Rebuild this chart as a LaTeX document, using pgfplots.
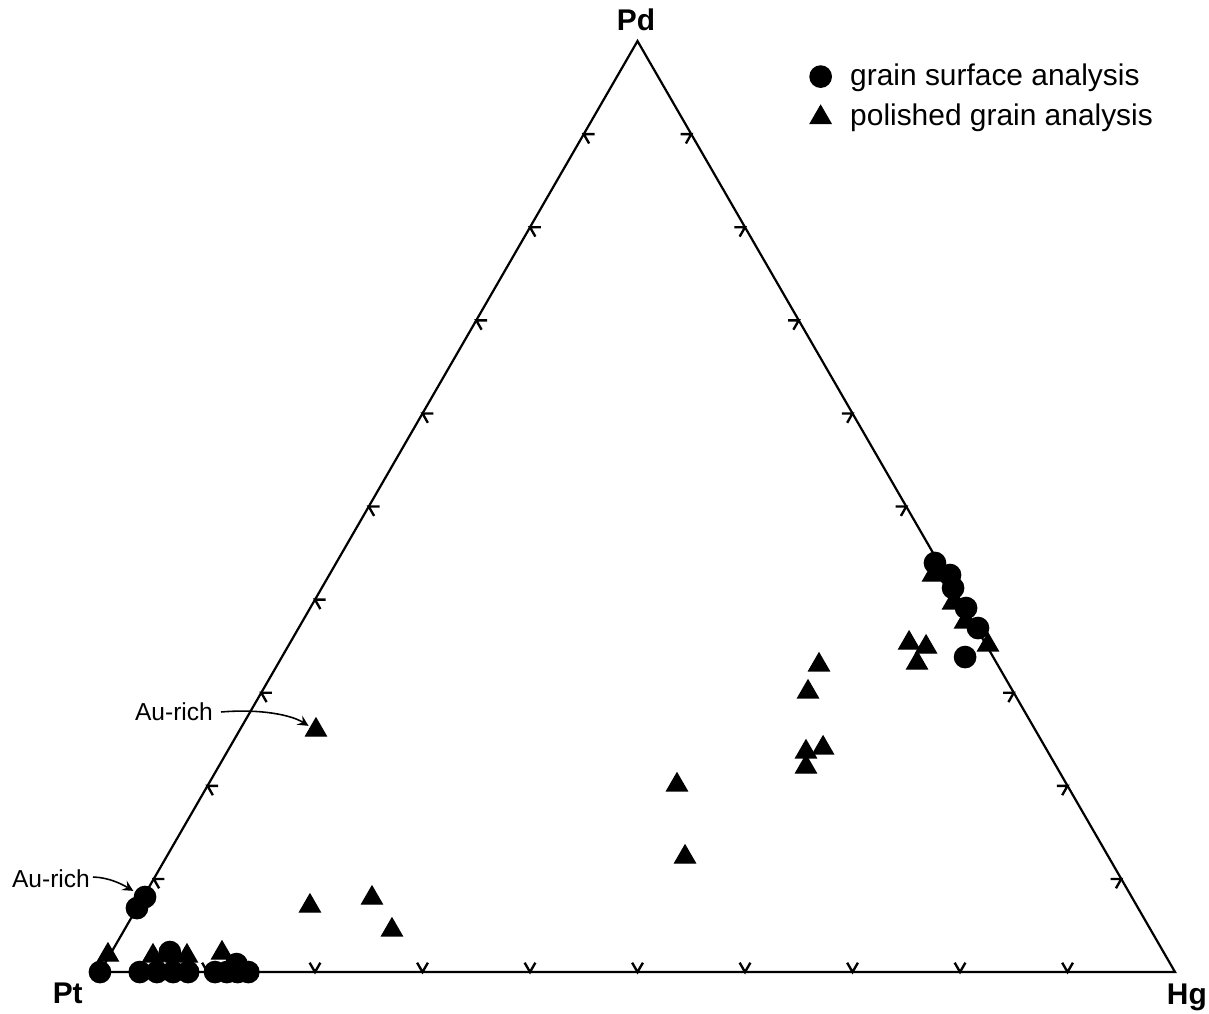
\documentclass[border=0pt]{standalone}
\usepackage{pgfplots}
\pgfplotsset{compat=1.18}
\usepackage{fontspec}
\setmainfont{Liberation Sans}
\begin{document}
\begin{tikzpicture}
\begin{axis}[x=0.12cm, y=0.12cm,
  xmin=-9.30, xmax=103.16, ymin=-3.81, ymax=90.42,
  hide axis, clip=false,
  legend style={at={(axis cs:65.1,85.75)}, anchor=north west, draw=none, fill=none,
    font=\fontsize{9.5}{11}\selectfont, row sep=0.6pt,
    /tikz/every odd column/.append style={column sep=4pt}},
  legend cell align=left]
\path (axis cs:-9.30,-3.81) rectangle (axis cs:103.16,90.42);
% triangle frame
\draw[line width=0.7pt, line join=miter] (axis cs:0,0) -- (axis cs:100,0) -- (axis cs:50,86.60) -- cycle;
% tick marks
\pgfplotsinvokeforeach{1,...,9}{
  \draw[line width=0.75pt] (axis cs:{#1*10-0.5},0.87) -- (axis cs:{#1*10},0) -- (axis cs:{#1*10+0.5},0.87);
  \draw[line width=0.75pt] (axis cs:{#1*5+1.0},{#1*8.660}) -- (axis cs:{#1*5},{#1*8.660}) -- (axis cs:{#1*5+0.5},{#1*8.660-0.87});
  \draw[line width=0.75pt] (axis cs:{100-#1*5-1.0},{#1*8.660}) -- (axis cs:{100-#1*5},{#1*8.660}) -- (axis cs:{100-#1*5-0.5},{#1*8.660-0.87});
}
\addplot[only marks, mark=*, mark size=3.4pt, black] coordinates {
 (0,0) (3.44,5.95) (4.19,6.98)
 (3.7,0) (5.3,0) (6.8,0) (8.2,0) (6.5,1.86)
 (10.7,0) (11.8,0) (12.8,0) (13.8,0) (12.7,0.74)
 (77.67,38.05) (79.07,36.93) (79.35,35.72) (80.56,33.86) (81.67,32.00) (80.47,29.30)
};
\addlegendentry{grain surface analysis}
\addplot[only marks, mark=triangle*, mark size=3.8pt, black] coordinates {
 (0.74,1.58) (4.93,1.49) (8.09,1.49) (11.35,1.77)
 (19.53,6.14) (25.30,6.88) (27.16,3.91) (20.09,22.51)
 (53.67,17.40) (54.42,10.70)
 (66.88,28.56) (65.86,26.05) (65.67,20.47) (67.26,20.84) (65.67,19.07)
 (75.26,30.60) (76.84,30.23) (76.00,28.74)
 (77.49,36.93) (79.35,34.33) (80.47,32.56) (82.60,30.42)
};
\addlegendentry{polished grain analysis}
% vertex labels
\node[inner sep=0pt, font=\fontsize{9.5}{10}\selectfont\bfseries] at (axis cs:49.86,88.56) {Pd};
\node[inner sep=0pt, font=\fontsize{9.5}{10}\selectfont\bfseries] at (axis cs:-3.0,-1.95) {Pt};
\node[inner sep=0pt, font=\fontsize{9.5}{10}\selectfont\bfseries] at (axis cs:101.1,-2.33) {Hg};
% annotations
\node[inner sep=0pt, font=\fontsize{7.8}{9}\selectfont] at (axis cs:6.88,24.19) {Au-rich};
\draw[line width=0.5pt, -stealth] (axis cs:11.26,24.19) .. controls (axis cs:15.0,24.5) and (axis cs:17.8,23.9) .. (axis cs:19.4,22.9);
\node[inner sep=0pt, font=\fontsize{7.8}{9}\selectfont] at (axis cs:-4.56,8.65) {Au-rich};
\draw[line width=0.5pt, -stealth] (axis cs:-0.65,8.84) .. controls (axis cs:0.8,8.8) and (axis cs:2.0,8.2) .. (axis cs:3.1,7.55);
\end{axis}
\end{tikzpicture}
\end{document}
